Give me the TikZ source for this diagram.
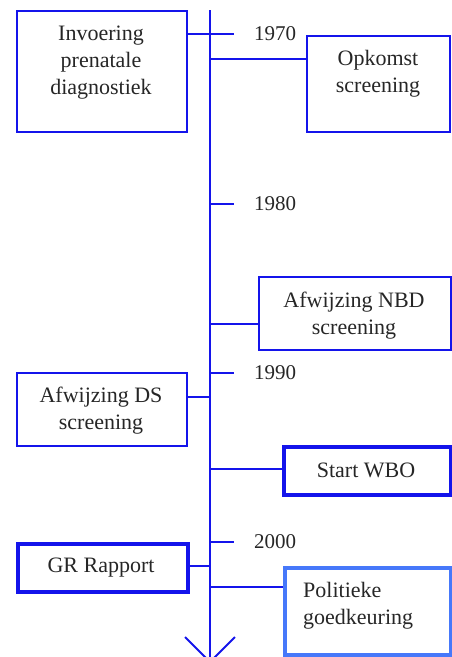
\documentclass[tikz,border=0pt]{standalone}
\usepackage{fontspec}
\setmainfont{Liberation Serif}
\definecolor{tblue}{RGB}{20,20,235}
\definecolor{lblue}{RGB}{70,120,250}
\begin{document}
\begin{tikzpicture}[x=1pt,y=-1pt,
  box/.style={draw=tblue, line width=2pt, inner sep=0pt, anchor=north west},
  thickbox/.style={box, line width=3.6pt},
  lightbox/.style={box, draw=lblue, line width=3.6pt},
  txt/.style={font=\fontsize{22}{27}\selectfont, align=center, inner sep=0pt, text=black!85},
  yr/.style={font=\fontsize{21}{25}\selectfont, anchor=west, inner sep=0pt, text=black!85},
  conn/.style={draw=tblue, line width=2pt},
  tick/.style={draw=tblue, line width=1.5pt}]
\useasboundingbox (0,0) rectangle (452,657);
% axis
\coordinate (top) at (210,10);
\coordinate (bot) at (210,662);
\draw[conn] (top) -- (bot);
\coordinate (al) at (185,637);
\coordinate (ar) at (235,637);
\draw[conn] (al) -- (bot) -- (ar);
% boxes
\node[box, minimum width=170pt, minimum height=121pt] (b1) at (16,10) {};
\node[txt] (t1) at (101,63) {Invoering\\prenatale\\diagnostiek};
\node[box, minimum width=143pt, minimum height=96pt] (b2) at (306,35) {};
\node[txt] (t2) at (378,74) {Opkomst\\screening};
\node[box, minimum width=192pt, minimum height=73pt] (b3) at (258,276) {};
\node[txt] (t3) at (354,316) {Afwijzing NBD\\screening};
\node[box, minimum width=170pt, minimum height=73pt] (b4) at (16,372) {};
\node[txt] (t4) at (101,411) {Afwijzing DS\\screening};
\node[thickbox, minimum width=167pt, minimum height=48pt] (b5) at (282,445) {};
\node[txt] (t5) at (366,470) {Start WBO};
\node[thickbox, minimum width=170pt, minimum height=48pt] (b6) at (16,542) {};
\node[txt] (t6) at (101,568) {GR Rapport};
\node[lightbox, minimum width=166pt, minimum height=87pt] (b7) at (283,566) {};
\node[txt, align=left, anchor=west] (t7) at (303,606) {Politieke\\goedkeuring};
% years
\node[yr] (y1) at (254,34) {1970};
\node[yr] (y2) at (254,204) {1980};
\node[yr] (y3) at (254,373) {1990};
\node[yr] (y4) at (254,542) {2000};
\coordinate (k1) at (234,34);
\coordinate (k2) at (234,204);
\coordinate (k3) at (234,373);
\coordinate (k4) at (234,542);
\draw[tick] (b1.east |- k1) -- (k1);
\draw[tick] (top |- k2) -- (k2);
\draw[tick] (top |- k3) -- (k3);
\draw[tick] (top |- k4) -- (k4);
% connectors
\coordinate (c2) at (210,59);
\coordinate (c3) at (210,324);
\coordinate (c4) at (210,397);
\coordinate (c5) at (210,469);
\coordinate (c6) at (210,566);
\coordinate (c7) at (210,587);
\draw[tick] (c2) -- (c2 -| b2.west);
\draw[tick] (c3) -- (c3 -| b3.west);
\draw[tick] (c4) -- (c4 -| b4.east);
\draw[tick] (c5) -- (c5 -| b5.west);
\draw[tick] (c6) -- (c6 -| b6.east);
\draw[tick] (c7) -- (c7 -| b7.west);
\end{tikzpicture}
\end{document}
